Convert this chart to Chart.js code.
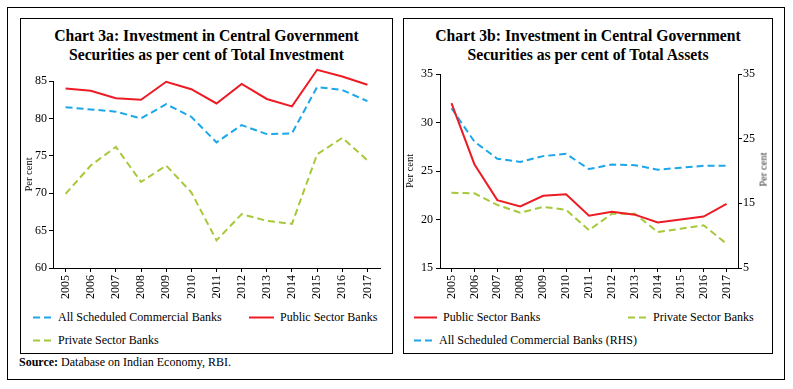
<!DOCTYPE html>
<html>
<head>
<meta charset="utf-8">
<script src="https://cdn.jsdelivr.net/npm/chart.js@4.4.0/dist/chart.umd.min.js"></script>
<style>
  body { margin: 0; background: #fff; font-family: "Liberation Serif", serif; color: #000; }
  .box { position: absolute; border: 1px solid #000; box-sizing: border-box; }
  .title { position: absolute; text-align: center; font-weight: bold; font-size: 15.7px; line-height: 19px; }
  canvas { position: absolute; }
  .leg { position: absolute; font-size: 12px; line-height: 14px; white-space: nowrap; }
  .leg svg { position: absolute; left: 0; top: 6px; }
  .rtitle { position: absolute; font-size: 10.5px; font-weight: normal; color: #333; transform: rotate(-90deg); white-space: nowrap; }
  #source { position: absolute; left: 19px; top: 355px; font-size: 12px; }
</style>
</head>
<body>
<div class="box" style="left:7px;top:7px;width:778px;height:373px;"></div>
<div class="box" style="left:20px;top:18px;width:373px;height:336px;"></div>
<div class="box" style="left:403px;top:18px;width:370px;height:336px;"></div>

<div class="title" style="left:20px;top:26px;width:373px;">Chart 3a: Investment in Central Government<br>Securities as per cent of Total Investment</div>
<div class="title" style="left:403px;top:26px;width:370px;">Chart 3b: Investment in Central Government<br>Securities as per cent of Total Assets</div>

<canvas id="chart3a" width="372" height="246" style="left:20px;top:62px;"></canvas>
<canvas id="chart3b" width="369" height="246" style="left:403px;top:62px;"></canvas>
<div class="rtitle" style="left:746px;top:164px;">Per cent</div>

<div id="source"><b>Source:</b> Database on Indian Economy, RBI.</div>

<script>
const years = ['2005', '2006', '2007', '2008', '2009', '2010', '2011', '2012', '2013', '2014', '2015', '2016', '2017'];

// Chart 3a: per cent of total investment
const scbInvest = [81.5, 81.2, 80.9, 80.0, 81.9, 80.2, 76.8, 79.1, 77.9, 78.0, 84.2, 83.8, 82.3];
const psbInvest = [84.0, 83.7, 82.7, 82.5, 84.9, 83.9, 82.0, 84.6, 82.6, 81.6, 86.5, 85.6, 84.5];
const pvtInvest = [69.9, 73.7, 76.2, 71.5, 73.7, 70.1, 63.7, 67.2, 66.3, 65.9, 75.2, 77.4, 74.4];

// Chart 3b: per cent of total assets (SCB on right axis)
const psbAssets = [32.0, 25.7, 22.0, 21.35, 22.45, 22.6, 20.4, 20.8, 20.5, 19.7, 20.0, 20.3, 21.6];
const pvtAssets = [22.75, 22.7, 21.5, 20.7, 21.3, 21.0, 18.9, 20.6, 20.6, 18.7, 19.05, 19.4, 17.5];
const scbAssets = [29.7, 24.55, 21.9, 21.4, 22.3, 22.65, 20.3, 21.0, 20.9, 20.2, 20.5, 20.8, 20.8];

const RED = '#ed1c24';
const BLUE = '#1ba7ea';
const GREEN = '#a6c83a';
const DASH = [7, 4];

Chart.defaults.font.family = '"Liberation Serif", serif';
Chart.defaults.color = '#000';

function line(label, data, color, dashed, axis) {
  return {
    label: label,
    data: data,
    borderColor: color,
    backgroundColor: color,
    borderWidth: 2,
    borderDash: dashed ? DASH : [],
    pointRadius: 0,
    tension: 0,
    fill: false,
    clip: false,
    yAxisID: axis || 'y'
  };
}

function xAxis() {
  return {
    offset: true,
    grid: { drawOnChartArea: false, tickLength: 4, color: '#000' },
    border: { color: '#000' },
    ticks: { minRotation: 90, maxRotation: 90, font: { size: 12 }, padding: 3, autoSkip: false },
    afterFit: s => { s.height = 40; }
  };
}

function yAxis(min, max, step, width, pad, opts) {
  return Object.assign({
    min: min,
    max: max,
    grid: { drawOnChartArea: false, tickLength: 4, color: '#000' },
    border: { color: '#000' },
    ticks: { stepSize: step, font: { size: 12 }, padding: pad },
    afterFit: s => { s.width = width; }
  }, opts || {});
}

const commonOpts = {
  responsive: false,
  animation: false,
  plugins: { legend: { display: false }, tooltip: { enabled: false } }
};

new Chart(document.getElementById('chart3a'), {
  type: 'line',
  data: {
    labels: years,
    datasets: [
      line('Public Sector Banks', psbInvest, RED, false),
      line('All Scheduled Commercial Banks', scbInvest, BLUE, true),
      line('Private Sector Banks', pvtInvest, GREEN, true)
    ]
  },
  options: Object.assign({}, commonOpts, {
    layout: { padding: { top: 19, right: 12, left: 0, bottom: 0 } },
    scales: {
      x: xAxis(),
      y: yAxis(60, 85, 5, 33, 2, {
        title: { display: true, text: 'Per cent', font: { size: 10.5 }, padding: { top: 3, bottom: 0 } }
      })
    }
  })
});

new Chart(document.getElementById('chart3b'), {
  type: 'line',
  data: {
    labels: years,
    datasets: [
      line('Public Sector Banks', psbAssets, RED, false),
      line('Private Sector Banks', pvtAssets, GREEN, true),
      line('All Scheduled Commercial Banks (RHS)', scbAssets, BLUE, true, 'y1')
    ]
  },
  options: Object.assign({}, commonOpts, {
    layout: { padding: { top: 12, right: 0, left: 0, bottom: 0 } },
    scales: {
      x: xAxis(),
      y: yAxis(15, 35, 5, 37, 3, {
        title: { display: true, text: 'Per cent', font: { size: 10.5 }, padding: { top: 1, bottom: 0 } }
      }),
      y1: yAxis(5, 35, 10, 34, 1, { position: 'right' })
    }
  })
});

// Legends (HTML), built from the same series names and colours
function legendItem(label, color, dashed, x, y, len) {
  const d = document.createElement('div');
  d.className = 'leg';
  d.style.left = x + 'px';
  d.style.top = (y - 7) + 'px';
  d.style.paddingLeft = (len + 6) + 'px';
  d.innerHTML = '<svg width="' + len + '" height="3"><line x1="0" y1="1.5" x2="' + len +
    '" y2="1.5" stroke="' + color + '" stroke-width="2"' +
    (dashed ? ' stroke-dasharray="' + DASH.join(',') + '"' : '') + '/></svg>' + label;
  document.body.appendChild(d);
}

legendItem('All Scheduled Commercial Banks', BLUE, true, 33, 317, 19);
legendItem('Public Sector Banks', RED, false, 249, 317, 25);
legendItem('Private Sector Banks', GREEN, true, 33, 340, 19);

legendItem('Public Sector Banks', RED, false, 414, 317, 23);
legendItem('Private Sector Banks', GREEN, true, 628, 317, 19);
legendItem('All Scheduled Commercial Banks (RHS)', BLUE, true, 414, 340, 19);
</script>
</body>
</html>
